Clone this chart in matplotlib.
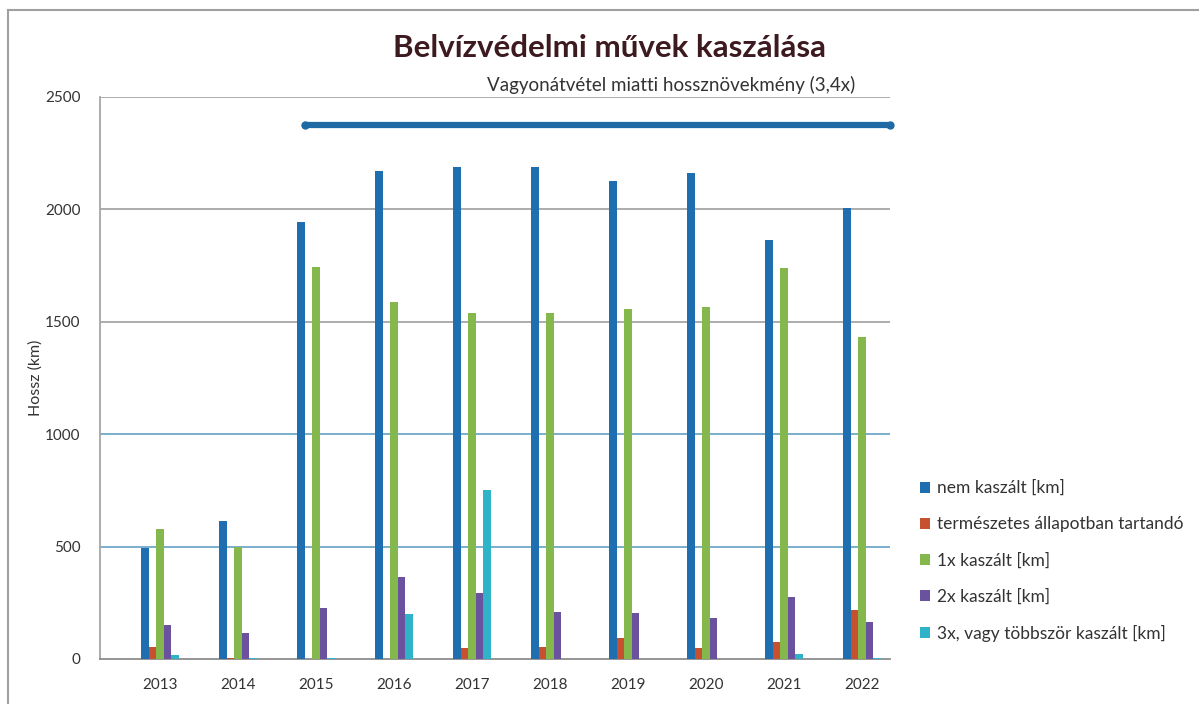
import matplotlib
matplotlib.use('Agg')
import matplotlib.pyplot as plt
import numpy as np
from matplotlib.lines import Line2D

plt.rcParams['font.family'] = ['Lato', 'DejaVu Sans']

years = ['2013', '2014', '2015', '2016', '2017', '2018', '2019', '2020', '2021', '2022']
series_names = ['nem kaszált [km]',
                'természetes állapotban tartandó',
                '1x kaszált [km]',
                '2x kaszált [km]',
                '3x, vagy többször kaszált [km]']
nem_kaszalt = [494, 615, 1945, 2172, 2190, 2190, 2128, 2162, 1864, 2006]
termeszetes = [52, 3, 2, 2, 49, 53, 93, 49, 77, 218]
kaszalt_1x = [578, 500, 1742, 1589, 1538, 1539, 1557, 1567, 1739, 1434]
kaszalt_2x = [151, 116, 227, 365, 293, 210, 206, 182, 276, 166]
kaszalt_3x = [18, 3, 3, 200, 752, 2, 2, 2, 22, 5]
colors = ['#1f6fb0', '#c6502f', '#84b84c', '#6a529e', '#2fb3c8']

fig = plt.figure(figsize=(11.99, 7.04), dpi=100)
ax = fig.add_axes([100/1199, 1-659/704, 790/1199, (659-97)/704])

x = np.arange(len(years))
w = 0.096
data = [nem_kaszalt, termeszetes, kaszalt_1x, kaszalt_2x, kaszalt_3x]
for i, vals in enumerate(data):
    ax.bar(x + (i-2)*w, vals, w, color=colors[i], label=series_names[i], zorder=3)

ax.set_xlim(-0.769, 9.359)
ax.set_ylim(0, 2500)
ax.set_yticks([0, 500, 1000, 1500, 2000, 2500])
for v in [1500, 2000, 2500]:
    ax.axhline(v, color='#a6a6a6', lw=1.3, zorder=1)
for v in [500, 1000]:
    ax.axhline(v, color='#6fa8c8', lw=1.3, zorder=1)
ax.set_xticks(x)
ax.set_xticklabels(years)
ax.tick_params(axis='both', length=0, labelsize=11, colors='#333333')
ax.tick_params(axis='y', pad=14)
ax.tick_params(axis='x', pad=14)
for s in ['top', 'right']:
    ax.spines[s].set_visible(False)
ax.spines['left'].set_color('#a6a6a6')
ax.spines['bottom'].set_color('#8c8c8c')
ax.spines['left'].set_linewidth(1.3)
ax.spines['bottom'].set_linewidth(1.3)
ax.set_ylabel('Hossz (km)', fontsize=11.5, color='#333333', labelpad=2)

# arrow for the takeover span
ax.plot([1.86, 9.36], [2375, 2375], color='#1f6aa5', lw=4.5, solid_capstyle='round',
        marker='o', markersize=5, clip_on=False, zorder=4)
ax.text(6.55, 2512, 'Vagyonátvétel miatti hossznövekmény (3,4x)', ha='center', va='bottom',
        fontsize=13.5, color='#333333')

fig.text(0.508, 0.932, 'Belvízvédelmi művek kaszálása', ha='center', va='center',
         fontsize=22.5, fontweight='bold', color='#3d1a1f')

fig.legend(loc='upper left', bbox_to_anchor=(920/1199, 1-480/704), frameon=False,
           fontsize=12.5, labelspacing=1.15, handlelength=0.6, handleheight=0.6,
           handletextpad=0.4, borderpad=0, borderaxespad=0, labelcolor='#333333')

# chart border
fig.add_artist(Line2D([8/1199, 1], [1-10/704, 1-10/704], color='#a0a0a0', lw=1.5))
fig.add_artist(Line2D([8/1199, 8/1199], [0, 1-10/704], color='#a0a0a0', lw=1.5))

fig.savefig('out.png', dpi=100)
